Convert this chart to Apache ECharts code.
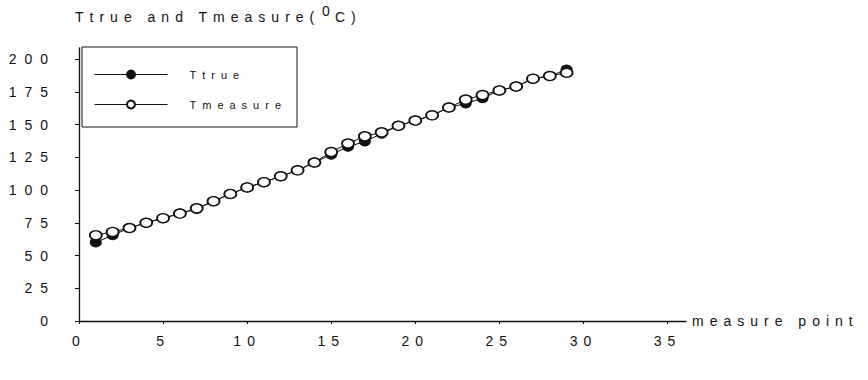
<!DOCTYPE html>
<html>
<head>
<meta charset="utf-8">
<script src="https://cdn.jsdelivr.net/npm/echarts@6/dist/echarts.min.js"></script>
<style>
  html, body { margin: 0; padding: 0; background: #fff; }
  #chart { width: 868px; height: 380px; }
  /* wide typewriter-like tracking on every label */
  #chart text { letter-spacing: 6px; }
  /* the value-axis numbers are tracked a little wider still */
  #chart text[style*="Arial"] { letter-spacing: 8px; }
</style>
</head>
<body>
<div id="chart"></div>
<script>
// measure point index
const measurePoints = [1, 2, 3, 4, 5, 6, 7, 8, 9, 10, 11, 12, 13, 14, 15,
  16, 17, 18, 19, 20, 21, 22, 23, 24, 25, 26, 27, 28, 29];
// true temperature (°C)
const tTrue = [60, 65.5, 71, 75, 78.5, 82, 85.5, 91.5, 97, 102, 106, 110.5, 115, 121, 127,
  133, 137, 143, 149, 153, 157, 163, 166, 170, 176, 179, 185, 187, 192];
// measured temperature (°C)
const tMeasure = [65.5, 68, 71, 75, 78.5, 82, 86, 91.5, 97, 102, 106, 110.5, 115, 121, 129,
  135.5, 141, 144, 149, 153, 157, 163, 169, 172.5, 176, 179, 185, 187, 189.5];
// axis tick values
const xTicks = [0, 5, 10, 15, 20, 25, 30, 35];
const yTicks = [0, 25, 50, 75, 100, 125, 150, 175, 200];

const ink = '#111';
const font = 'Liberation Sans';

const chart = echarts.init(document.getElementById('chart'), null, { renderer: 'svg' });

const pairs = (ys) => measurePoints.map((x, i) => [x, ys[i]]);
const titleText = (text, left, top) => ({
  text, left, top, padding: 0,
  textStyle: { color: ink, fontFamily: font, fontSize: 14, fontWeight: 'normal' }
});

chart.setOption({
  animation: false,
  backgroundColor: '#fff',
  // y-axis caption with a raised degree "0"
  title: [
    titleText('Ttrue and Tmeasure(', 75, 10),
    titleText('0', 322, 4),
    titleText('C)', 335, 10)
  ],
  legend: {
    orient: 'vertical',
    left: 82,
    top: 47,
    itemWidth: 73,
    itemHeight: 10,
    itemGap: 19,
    padding: [22, 58, 17, 12],
    borderColor: ink,
    borderWidth: 1,
    lineStyle: { width: 1 },
    textStyle: { color: ink, fontFamily: font, fontSize: 11, padding: [0, 0, 0, 17] },
    data: ['Ttrue', 'Tmeasure']
  },
  grid: { left: 79, right: 182, top: 48, bottom: 59 },
  xAxis: {
    type: 'value',
    min: 0,
    max: 36.1,
    name: 'measure point',
    nameLocation: 'end',
    nameGap: 6,
    nameTextStyle: { color: ink, fontFamily: font, fontSize: 14 },
    axisLine: { show: true, lineStyle: { color: ink, width: 1.3 } },
    axisTick: { show: true, length: 3, lineStyle: { color: ink }, customValues: xTicks },
    axisLabel: { color: ink, fontFamily: font, fontSize: 14, margin: 13, customValues: xTicks },
    splitLine: { show: false }
  },
  yAxis: {
    type: 'value',
    min: 0,
    max: 208.4,
    axisLine: { show: true, lineStyle: { color: ink, width: 1.3 } },
    axisTick: { show: true, length: 4, lineStyle: { color: ink }, customValues: yTicks },
    axisLabel: { color: ink, fontFamily: 'Arial', fontSize: 14, margin: 23, customValues: yTicks },
    splitLine: { show: false }
  },
  series: [
    {
      name: 'Ttrue',
      type: 'line',
      data: pairs(tTrue),
      symbol: 'circle',
      symbolSize: [11, 9],
      itemStyle: { color: ink, borderColor: ink, borderWidth: 1 },
      lineStyle: { color: ink, width: 1 },
      z: 2
    },
    {
      name: 'Tmeasure',
      type: 'line',
      data: pairs(tMeasure),
      symbol: 'circle',
      symbolSize: [12, 9],
      itemStyle: { color: '#fff', borderColor: ink, borderWidth: 1.6 },
      lineStyle: { color: ink, width: 1 },
      z: 3
    }
  ]
});
</script>
</body>
</html>
